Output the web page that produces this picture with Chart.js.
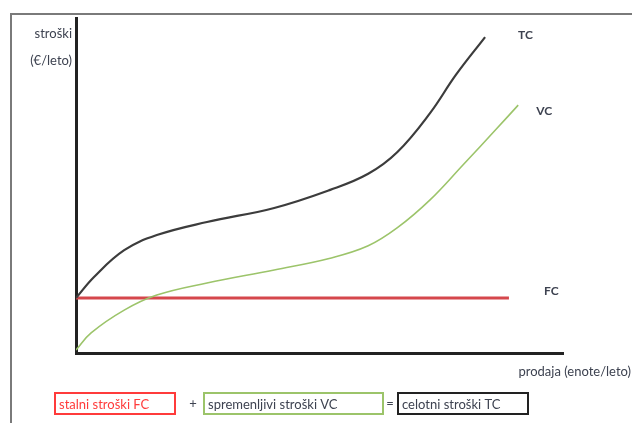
<!DOCTYPE html>
<html>
<head>
<meta charset="utf-8">
<script src="https://cdn.jsdelivr.net/npm/chart.js@4/dist/chart.umd.min.js"></script>
<style>
  html, body { margin: 0; padding: 0; background: #fff; }
  #wrap { position: relative; width: 632px; height: 423px; }
</style>
</head>
<body>
<div id="wrap"><canvas id="c" width="632" height="423"></canvas></div>
<script>
// Output (units/year) along x and costs along y, both on a 0–100 scale
const tcX = [0, 3.7, 9.9, 16.6, 26.9, 40.7, 52.2, 60.0, 66.0, 72.7, 78.0, 84.0];
const tcY = [16.4, 22.7, 30.7, 35.2, 39.1, 43.3, 48.7, 53.5, 60.0, 71.6, 83.0, 94.3];

const vcX = [0, 3.1, 9.9, 16.6, 26.9, 40.7, 52.2, 60.0, 66.0, 72.7, 79.5, 86.4, 90.8];
const vcY = [0.9, 6.0, 12.8, 17.3, 20.9, 24.8, 28.3, 32.0, 37.4, 45.7, 56.2, 67.0, 74.0];

const fcX = [0, 88.9];
const fcY = [16.4, 16.4];

const curveNames = ['TC', 'VC', 'FC'];
const yTitle = ['stroški', '(€/leto)'];
const xTitle = 'prodaja (enote/leto)';
const boxLabels = ['stalni stroški FC', 'spremenljivi stroški VC', 'celotni stroški TC'];

const pts = (xs, ys) => xs.map((x, i) => ({ x, y: ys[i] }));

const FONT = 'Lato, "Open Sans", sans-serif';
const TEXT = '#3d4250';

const decorations = {
  id: 'decorations',
  afterDraw(chart) {
    const ctx = chart.ctx;
    const xs = chart.scales.x, ys = chart.scales.y;
    ctx.save();

    // outer frame (top and left edges)
    ctx.strokeStyle = '#7a7a7a';
    ctx.lineWidth = 2;
    ctx.beginPath();
    ctx.moveTo(632, 14); ctx.lineTo(11, 14); ctx.lineTo(11, 423);
    ctx.stroke();

    // curve names next to their ends
    ctx.fillStyle = TEXT;
    ctx.font = 'bold 12px ' + FONT;
    ctx.textBaseline = 'middle';
    ctx.textAlign = 'left';
    const ends = [
      [tcX[tcX.length - 1], tcY[tcY.length - 1], 33, -2],
      [vcX[vcX.length - 1], vcY[vcY.length - 1], 18, 6],
      [fcX[fcX.length - 1], fcY[fcY.length - 1], 35, -7]
    ];
    ends.forEach((e, i) => {
      ctx.fillText(curveNames[i], xs.getPixelForValue(e[0]) + e[2], ys.getPixelForValue(e[1]) + e[3]);
    });

    // axis titles
    ctx.font = '13px ' + FONT;
    ctx.textAlign = 'right';
    ctx.fillText(yTitle[0], 72, 34);
    ctx.fillText(yTitle[1], 72, 61);
    ctx.fillText(xTitle, 631, 372);

    // equation boxes FC + VC = TC
    const boxes = [
      { x: 55, w: 120, stroke: '#ff3b3b', color: '#ff3b3b' },
      { x: 204, w: 179, stroke: '#9cc46a', color: TEXT },
      { x: 398, w: 130, stroke: '#222222', color: TEXT }
    ];
    const by = 393, bh = 21;
    ctx.lineWidth = 2;
    ctx.textAlign = 'left';
    boxes.forEach((b, i) => {
      ctx.strokeStyle = b.stroke;
      ctx.strokeRect(b.x, by, b.w, bh);
      ctx.fillStyle = b.color;
      ctx.fillText(boxLabels[i], b.x + 4, by + bh / 2 + 1);
    });
    ctx.fillStyle = TEXT;
    ctx.textAlign = 'center';
    ctx.fillText('+', 193, by + bh / 2);
    ctx.fillText('=', 390, by + bh / 2);
    ctx.restore();
  }
};

new Chart(document.getElementById('c'), {
  type: 'line',
  data: {
    datasets: [
      { label: 'TC', data: pts(tcX, tcY), borderColor: '#3c3c3c', borderWidth: 2.2 },
      { label: 'VC', data: pts(vcX, vcY), borderColor: '#9cc46a', borderWidth: 1.6 },
      { label: 'FC', data: pts(fcX, fcY), borderColor: '#d5474c', borderWidth: 3 }
    ]
  },
  options: {
    responsive: false,
    animation: false,
    devicePixelRatio: 1,
    layout: { padding: { left: 76, right: 69, top: 18, bottom: 70 } },
    elements: {
      point: { radius: 0 },
      line: { tension: 0.4, fill: false }
    },
    plugins: { legend: { display: false }, tooltip: { enabled: false } },
    scales: {
      x: {
        type: 'linear', min: 0, max: 100,
        grid: { display: false, drawTicks: false },
        ticks: { display: false },
        border: { display: true, color: '#222', width: 3 }
      },
      y: {
        type: 'linear', min: 0, max: 100,
        grid: { display: false, drawTicks: false },
        ticks: { display: false },
        border: { display: true, color: '#222', width: 3 }
      }
    }
  },
  plugins: [decorations]
});
</script>
</body>
</html>
